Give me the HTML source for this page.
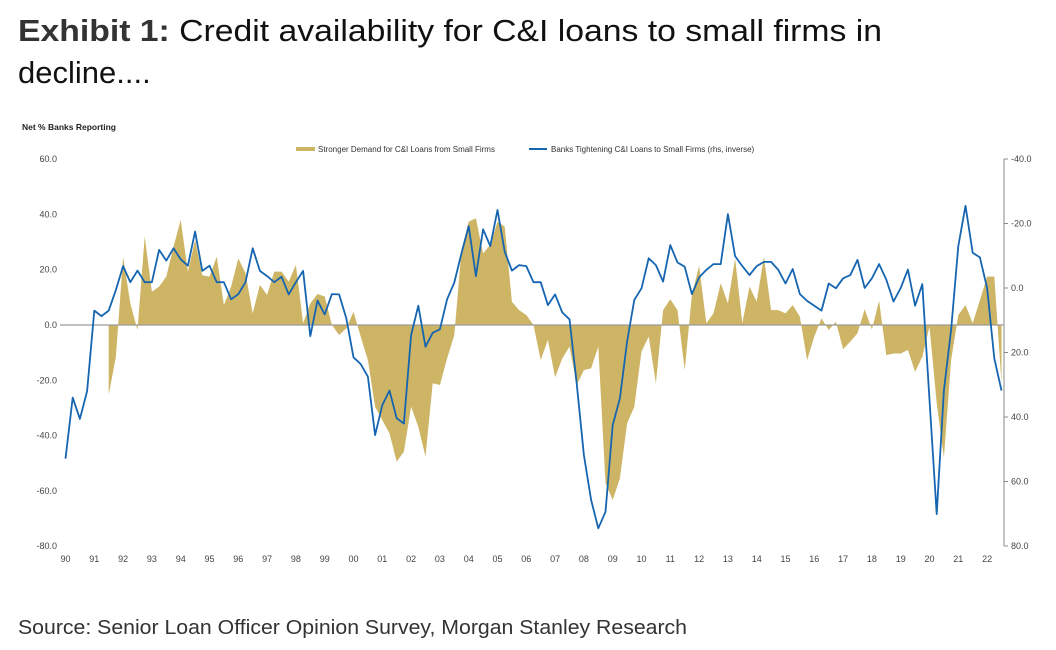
<!DOCTYPE html>
<html><head><meta charset="utf-8"><style>
html,body{margin:0;padding:0;background:#fff;}
svg{display:block;font-family:"Liberation Sans",sans-serif;}
</style></head><body>
<svg id="chart" width="1056" height="650" viewBox="0 0 1056 650" xmlns="http://www.w3.org/2000/svg">
<text x="18" y="41" font-size="31" fill="#111" textLength="864" lengthAdjust="spacingAndGlyphs"><tspan font-weight="bold" fill="#333">Exhibit 1:</tspan>  Credit availability for C&amp;I loans to small firms in</text>
<text x="18" y="83" font-size="31" fill="#111">decline....</text>
<text x="22" y="130" font-size="8.5" font-weight="bold" fill="#222">Net % Banks Reporting</text>
<g id="grid"></g>
<g id="marks"></g>
<g>
<rect x="296" y="147" width="19" height="4" fill="#cdb565"/>
<text x="318" y="152" font-size="8" fill="#333">Stronger Demand for C&amp;I Loans from Small Firms</text>
<line x1="529" y1="149" x2="547" y2="149" stroke="#1565b0" stroke-width="2"/>
<text x="551" y="152" font-size="8" fill="#333">Banks Tightening C&amp;I Loans to Small Firms (rhs, inverse)</text>
</g>
<text x="18" y="634" font-size="20" fill="#333" textLength="669" lengthAdjust="spacingAndGlyphs">Source: Senior Loan Officer Opinion Survey, Morgan Stanley Research</text>
</svg>
<script>
const startYear = 1990;
const yearLabels = ["90","91","92","93","94","95","96","97","98","99","00","01","02","03","04","05","06","07","08","09","10","11","12","13","14","15","16","17","18","19","20","21","22"];
const leftTicks = [60,40,20,0,-20,-40,-60,-80];
const rightTicks = [-40,-20,0,20,40,60,80];
const demand = [null,null,null,null, null,null,-25.3,-11.5,
24.7,7.8,-1.8,32, 12,13.9,17.5,28.3, 38,19.3,30.8,18, 17.5,24.7,7.2,13.9,
24.1,18.7,4.2,14.5, 10.9,19.3,19.3,15.7, 21.7,0.6,7.8,11.2, 10.3,0,-3.6,-1.2,
4.8,-4.2,-12.7,-29.6, -34.4,-39.2,-49.5,-45.8, -29.6,-36.8,-47.6,-21.1, -21.7,-12.1,-3.6,27.1,
37.4,38.6,25.9,29, 37.4,35.6,8.4,5.4, 3.6,0,-12.7,-5.4, -18.9,-12.1,-7.8,-21.7,
-16.3,-15.7,-7.8,-57.2, -63.3,-55.5,-35.6,-29.6, -9.6,-4.2,-21.1,5.4, 9.3,5.4,-16.3,10.9,
21.4,0.6,4.2,15.1, 7.8,24.1,0.6,13.9, 8.4,24.7,5.4,5.4, 4.2,7.2,3,-12.7,
-4.2,2.4,-1.8,1.2, -8.8,-6,-3,5.7, -1.6,8.8,-10.9,-10.3, -10.3,-9,-16.9,-11.5,
-0.6,-28.3,-48,-12.7, 3.6,7.2,0.6,9, 17.5,17.5,-21.1];
const tightening = [52.9,34,40.6,32, 7,8.7,7,0.6, -6.8,-1.8,-5.4,-1.8, -1.8,-11.8,-8.5,-12.3,
-8.9,-6.9,-17.5,-5.3, -6.9,-1.8,-1.8,3.5, 1.9,-1.8,-12.3,-5.3, -3.7,-1.8,-3.5,2,
-1.8,-5.3,14.9,3.9, 8.2,1.9,2,9.4, 21.5,23.6,27.5,45.6, 36.3,31.8,40.4,42,
14.6,5.5,18.2,13.9, 12.8,3.5,-1.7,-10.8, -19.2,-3.7,-18.2,-13, -24.2,-11.3,-5.4,-7.1,
-6.8,-1.8,-1.8,5.3, 2,7.6,9.7,29.6, 51.8,65.7,74.5,69.4, 42.5,34.2,16.6,3.7,
0.1,-9.2,-7.1,-2, -13.3,-7.9,-6.6,1.9, -3.3,-5.6,-7.4,-7.4, -22.9,-9.9,-6.8,-4,
-6.8,-8.1,-8.1,-5.6, -1.4,-5.9,1.9,4, 5.5,7,-1.4,0.1, -3,-4,-8.7,0,
-3,-7.4,-2.6,4.2, 0,-5.7,5.5,-1.2, 34.7,70.1,31.8,13, -13,-25.5,-10.9,-9.5, 0,21.8,31.8];

const NS="http://www.w3.org/2000/svg";
const X0=65.5, QW=7.2;
function xq(i){return X0+i*QW;}
function yL(v){return 325-(v)*(387/140);}
function yR(v){return 288+(v)*(387/120);}
function mk(tag,attrs,parent){const e=document.createElementNS(NS,tag);for(const k in attrs)e.setAttribute(k,attrs[k]);parent.appendChild(e);return e;}
const grid=document.getElementById('grid'), marks=document.getElementById('marks');

leftTicks.forEach(v=>{
  const t=mk('text',{x:57,y:yL(v)+3,'font-size':9,fill:'#444','text-anchor':'end'},grid);
  
  
  t.textContent=v.toFixed(1);
});
const ax=mk('line',{x1:1004,y1:yR(-40),x2:1004,y2:yR(80),stroke:'#888','stroke-width':1},grid);


rightTicks.forEach(v=>{
  const tk=mk('line',{x1:1004,y1:yR(v),x2:1008,y2:yR(v),stroke:'#888'},grid);
  
  
  const t=mk('text',{x:1011,y:yR(v)+3,'font-size':9,fill:'#444'},grid);
  
  
  t.textContent=v.toFixed(1);
});
yearLabels.forEach((lab,i)=>{
  const t=mk('text',{x:xq(i*4),y:562,'font-size':9,fill:'#444','text-anchor':'middle'},grid);
  
  
  t.textContent=lab;
});

let first=demand.findIndex(v=>v!==null), last=demand.length-1;
let d='M'+xq(first)+','+yL(0);
for(let i=first;i<=last;i++){d+=' L'+xq(i).toFixed(1)+','+yL(demand[i]).toFixed(1);}
d+=' L'+xq(last)+','+yL(0)+' Z';
const area=mk('path',{d:d,fill:'#cdb565',stroke:'none'},marks);



const zl=mk('line',{x1:60,y1:yL(0),x2:1004,y2:yL(0),stroke:'#9a9a9a','stroke-width':1.2},marks);



const pts=tightening.map((v,i)=>xq(i).toFixed(1)+','+yR(v).toFixed(1)).join(' ');
const line=mk('polyline',{points:pts,fill:'none',stroke:'#1565b0','stroke-width':1.8,'stroke-linejoin':'round'},marks);


</script>
</body></html>
